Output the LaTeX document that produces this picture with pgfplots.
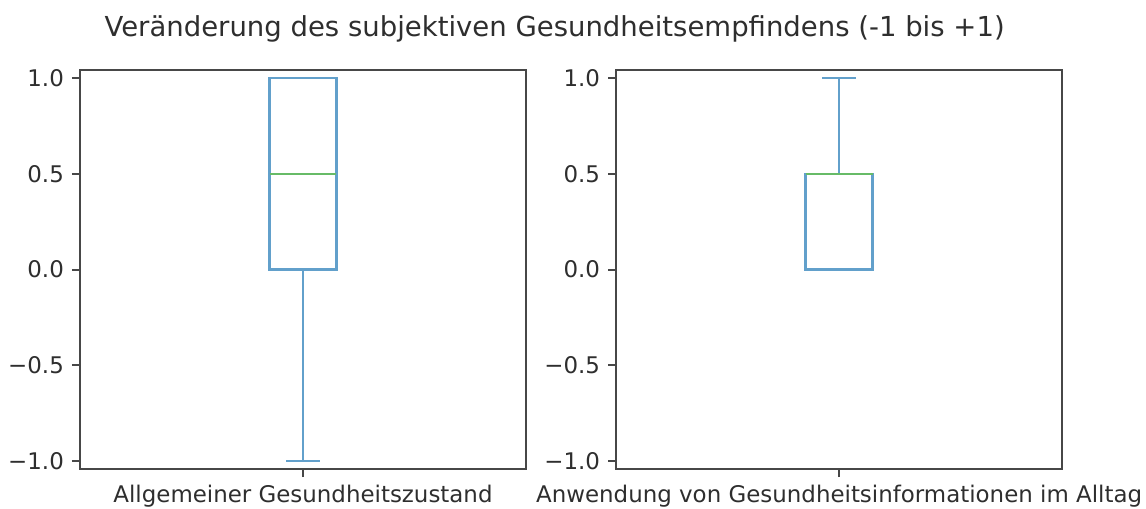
\documentclass[border=0pt]{standalone}
\usepackage{fontspec}
\setmainfont{DejaVu Sans}
\usepackage{pgfplots}
\pgfplotsset{compat=1.18}
\usepgfplotslibrary{statistics}
\definecolor{mplblue}{HTML}{1F77B4}
\definecolor{mplgreen}{HTML}{2CA02C}
\colorlet{boxblue}{mplblue!70!white}
\colorlet{medgreen}{mplgreen!72!white}
\begin{document}
\begin{tikzpicture}[x=1pt,y=1pt]
\path[use as bounding box] (0,0) rectangle (500,221.7);
\pgfplotsset{
  myaxis/.style={
    scale only axis, width=194.6pt, height=174.1pt,
    anchor=south west,
    xmin=0.5, xmax=1.5, ymin=-1.042, ymax=1.042,
    xtick={1}, ytick={-1,-0.5,0,0.5,1},
    yticklabels={−1.0,−0.5,0.0,0.5,1.0},
    tick align=outside, major tick length=3.5pt,
    xtick pos=bottom, ytick pos=left,
    axis line style={black!72, line width=0.9pt},
    every tick/.style={black!72, line width=0.9pt},
    tick label style={font=\fontsize{10}{12}\selectfont, text=black!82},
    boxplot/draw direction=y,
    boxplot/every box/.style={draw=boxblue, line width=1.1pt},
    boxplot/every whisker/.style={draw=boxblue, line width=1.1pt},
    boxplot/every median/.style={draw=medgreen, line width=1.1pt},
  }
}
\begin{axis}[myaxis, at={(34.9pt,17pt)}, xticklabels={Allgemeiner Gesundheitszustand}]
\addplot[boxblue, line width=1.1pt, solid, boxplot prepared={draw position=1, lower whisker=-1, lower quartile=0, median=0.5, upper quartile=1, upper whisker=1, box extend=0.15, whisker extend=0.075}] coordinates {};
\end{axis}
\begin{axis}[myaxis, at={(268.8pt,17pt)}, xticklabels={Anwendung von Gesundheitsinformationen im Alltag}]
\addplot[boxblue, line width=1.1pt, solid, boxplot prepared={draw position=1, lower whisker=0, lower quartile=0, median=0.5, upper quartile=0.5, upper whisker=1, box extend=0.15, whisker extend=0.075}] coordinates {};
\end{axis}
\node[anchor=base, font=\fontsize{12}{14.4}\selectfont, text=black!82] at (242,205.8) {Veränderung des subjektiven Gesundheitsempfindens (-1 bis +1)};
\end{tikzpicture}
\end{document}
